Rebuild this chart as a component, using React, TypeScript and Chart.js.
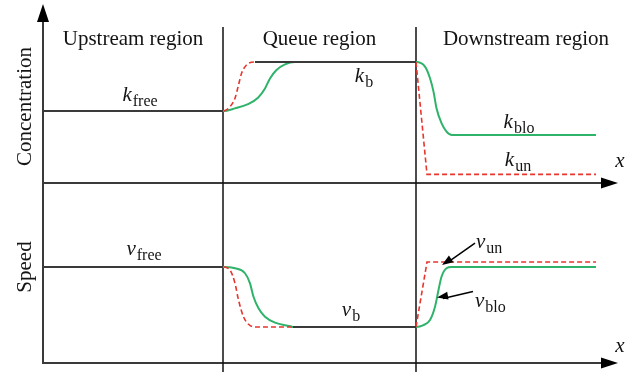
import { useEffect, useRef } from "react";
import { Chart, registerables } from "chart.js";

Chart.register(...registerables);

// Road position (arbitrary distance units) and region boundaries
const xMax = 115;
const regionBounds = [36, 74.6];
const regionNames = ["Upstream region", "Queue region", "Downstream region"];
const regionCenters = [18, 55.3, 96.6];

// Concentration panel (k)
const kFreeX = [0, 36];
const kFreeY = [36, 36];
const kBX = [42.4, 74.6];
const kBY = [60.5, 60.5];
const kGreenX = [33, 36, 38.4, 41, 43, 44.4, 45.4, 46.7, 48.4, 50.4, 74.6, 76.4, 77.4, 78.1, 78.7, 79.7, 80.7, 81.8, 110.6];
const kGreenY = [36, 36, 37.3, 39.4, 42.6, 47.3, 52.3, 56.5, 59.3, 60.5, 60.5, 58.2, 52.4, 45.7, 37.4, 29.9, 25.7, 24, 24];
const kRedUpX = [33, 36, 37.4, 38.4, 39.1, 39.7, 40.7, 42.4, 48];
const kRedUpY = [36, 36, 38.2, 42.4, 49, 54.8, 59, 60.5, 60.5];
const kRedDownX = [74.6, 76.8, 110.6];
const kRedDownY = [60.5, 4.3, 4.3];

// Speed panel (v)
const vFreeX = [0, 36];
const vFreeY = [60, 60];
const vBX = [50, 74.6];
const vBY = [22.5, 22.5];
const vGreenX = [33, 36, 38.4, 40.4, 41.4, 42.1, 43.1, 44.4, 46.4, 49.7, 50, 74.6, 76.1, 77.4, 78.4, 79.1, 79.7, 80.7, 81.7, 110.6];
const vGreenY = [60, 60, 59.2, 56.1, 49.8, 41.4, 34.2, 28.9, 25.2, 22.8, 22.5, 22.5, 23.7, 26.9, 35.2, 45.6, 53.9, 59.2, 60, 60];
const vRedUpX = [33, 36, 37.4, 38.4, 39.1, 40.1, 41.1, 42.4, 52];
const vRedUpY = [60, 60, 58.1, 49.8, 39.4, 28.9, 24.2, 22.5, 22.5];
const vRedDownX = [74.6, 76.8, 110.6];
const vRedDownY = [22.5, 63.1, 63.1];

const BLACK = "#3a3a3a";
const GREEN = "#2fb36a";
const RED = "#e8352d";
const TEXT = "#141414";
const SERIF = '"Liberation Serif", "DejaVu Serif", serif';

const pts = (xs: number[], ys: number[]) => xs.map((x, i) => ({ x, y: ys[i] }));

function drawSub(
  ctx: CanvasRenderingContext2D,
  base: string,
  sub: string,
  x: number,
  y: number,
  align: "center" | "left"
) {
  ctx.font = `italic 21px ${SERIF}`;
  const wb = ctx.measureText(base).width;
  ctx.font = `16px ${SERIF}`;
  const ws = ctx.measureText(sub).width;
  const start = align === "center" ? x - (wb + ws + 1) / 2 : x;
  ctx.textAlign = "left";
  ctx.textBaseline = "alphabetic";
  ctx.font = `italic 21px ${SERIF}`;
  ctx.fillText(base, start, y);
  ctx.font = `16px ${SERIF}`;
  ctx.fillText(sub, start + wb + 1, y + 5);
}

function arrowHead(
  ctx: CanvasRenderingContext2D,
  tx: number,
  ty: number,
  fx: number,
  fy: number,
  len: number,
  half: number
) {
  const ang = Math.atan2(ty - fy, tx - fx);
  const bx = tx - len * Math.cos(ang);
  const by = ty - len * Math.sin(ang);
  const px = -Math.sin(ang) * half;
  const py = Math.cos(ang) * half;
  ctx.beginPath();
  ctx.moveTo(tx, ty);
  ctx.lineTo(bx + px, by + py);
  ctx.lineTo(bx - px, by - py);
  ctx.closePath();
  ctx.fill();
}

function segment(ctx: CanvasRenderingContext2D, x1: number, y1: number, x2: number, y2: number) {
  ctx.beginPath();
  ctx.moveTo(x1, y1);
  ctx.lineTo(x2, y2);
  ctx.stroke();
}

const diagramPlugin = {
  id: "diagram",
  beforeDatasetsDraw(chart: any) {
    const { ctx, chartArea: a, scales } = chart;
    const X = (v: number) => scales.x.getPixelForValue(v);
    const left = X(0);
    const kBase = scales.yk.getPixelForValue(0);
    const vBase = scales.yv.getPixelForValue(0);
    ctx.save();
    ctx.strokeStyle = BLACK;
    ctx.fillStyle = "#000";
    ctx.lineWidth = 2;
    segment(ctx, left, vBase + 1, left, a.top + 14);
    arrowHead(ctx, left, a.top, left, a.top + 30, 18, 6);
    for (const yb of [kBase, vBase]) {
      segment(ctx, left, yb, a.right - 12, yb);
      arrowHead(ctx, a.right, yb, a.right - 30, yb, 17, 5.5);
    }
    ctx.strokeStyle = "#111";
    ctx.lineWidth = 1.5;
    for (const b of regionBounds) {
      segment(ctx, X(b), a.top + 23, X(b), chart.height);
    }
    ctx.restore();
  },
  afterDatasetsDraw(chart: any) {
    const { ctx, chartArea: a, scales } = chart;
    const X = (v: number) => scales.x.getPixelForValue(v);
    const YK = (v: number) => scales.yk.getPixelForValue(v);
    const YV = (v: number) => scales.yv.getPixelForValue(v);
    const kBase = YK(0);
    const vBase = YV(0);
    ctx.save();
    ctx.fillStyle = TEXT;

    // region titles
    ctx.font = `21px ${SERIF}`;
    ctx.textAlign = "center";
    ctx.textBaseline = "alphabetic";
    regionNames.forEach((n, i) => ctx.fillText(n, X(regionCenters[i]), a.top + 41));

    // panel titles
    ctx.textBaseline = "middle";
    ctx.save();
    ctx.translate(25, (a.top + kBase) / 2 + 13);
    ctx.rotate(-Math.PI / 2);
    ctx.fillText("Concentration", 0, 0);
    ctx.restore();
    ctx.save();
    ctx.translate(25, YV(60));
    ctx.rotate(-Math.PI / 2);
    ctx.fillText("Speed", 0, 0);
    ctx.restore();

    // x axis labels
    ctx.font = `italic 21px ${SERIF}`;
    ctx.textAlign = "center";
    ctx.textBaseline = "alphabetic";
    ctx.fillText("x", a.right + 2, kBase - 16);
    ctx.fillText("x", a.right + 2, vBase - 11);

    // level labels
    drawSub(ctx, "k", "free", X(19.4), YK(kFreeY[0]) - 10, "center");
    drawSub(ctx, "k", "b", X(64.2), YK(kBY[0]) + 20, "center");
    drawSub(ctx, "k", "blo", X(95.2), YK(kGreenY[kGreenY.length - 1]) - 7, "center");
    drawSub(ctx, "k", "un", X(95), YK(kRedDownY[kRedDownY.length - 1]) - 8, "center");
    drawSub(ctx, "v", "free", X(20.2), YV(vFreeY[0]) - 12, "center");
    drawSub(ctx, "v", "b", X(61.6), YV(vBY[0]) - 11, "center");
    drawSub(ctx, "v", "un", X(86.6), YV(vRedDownY[vRedDownY.length - 1]) - 14, "left");
    drawSub(ctx, "v", "blo", X(86.4), YV(vBY[0]) - 20, "left");

    // pointer arrows to the downstream speed curves
    ctx.strokeStyle = "#000";
    ctx.fillStyle = "#000";
    ctx.lineWidth = 1.5;
    const unTip = { x: X(79.8), y: YV(vRedDownY[1]) + 3 };
    const unTail = { x: X(86.4), y: YV(vRedDownY[1]) - 19 };
    segment(ctx, unTail.x, unTail.y, unTip.x + 6, unTip.y - 3);
    arrowHead(ctx, unTip.x, unTip.y, unTail.x, unTail.y, 11, 4);
    const bloTip = { x: X(78.8), y: YV(41) };
    const bloTail = { x: X(86), y: YV(41) - 6 };
    segment(ctx, bloTail.x, bloTail.y, bloTip.x + 6, bloTip.y + 1);
    arrowHead(ctx, bloTip.x, bloTip.y, bloTail.x, bloTail.y, 11, 4);
    ctx.restore();
  },
};

export default function App() {
  const ref = useRef<HTMLCanvasElement | null>(null);

  useEffect(() => {
    if (!ref.current) return;
    const line = (data: any[], axis: string, color: string, order: number, opts: any = {}) => ({
      data,
      yAxisID: axis,
      borderColor: color,
      borderWidth: 2,
      pointRadius: 0,
      fill: false,
      order,
      ...opts,
    });
    const smooth = { cubicInterpolationMode: "monotone" };
    const dashed = { borderDash: [5, 3], borderWidth: 1.6 };
    const chart = new Chart(ref.current, {
      type: "line",
      data: {
        datasets: [
          line(pts(kFreeX, kFreeY), "yk", BLACK, 1),
          line(pts(kBX, kBY), "yk", BLACK, 1),
          line(pts(vFreeX, vFreeY), "yv", BLACK, 1),
          line(pts(vBX, vBY), "yv", BLACK, 1),
          line(pts(kRedUpX, kRedUpY), "yk", RED, 2, { ...smooth, ...dashed }),
          line(pts(kRedDownX, kRedDownY), "yk", RED, 2, { ...dashed }),
          line(pts(vRedUpX, vRedUpY), "yv", RED, 2, { ...smooth, ...dashed }),
          line(pts(vRedDownX, vRedDownY), "yv", RED, 2, { ...dashed }),
          line(pts(kGreenX, kGreenY), "yk", GREEN, 3, smooth),
          line(pts(vGreenX, vGreenY), "yv", GREEN, 3, smooth),
        ],
      },
      options: {
        animation: false,
        responsive: false,
        maintainAspectRatio: false,
        devicePixelRatio: 1,
        layout: { padding: { left: 43, right: 20, top: 4, bottom: 9 } },
        plugins: { legend: { display: false }, tooltip: { enabled: false } },
        elements: { line: { tension: 0 } },
        scales: {
          x: { type: "linear", min: 0, max: xMax, display: false },
          yk: { type: "linear", min: -90, max: 89.5, display: false },
          yv: { type: "linear", min: 0, max: 224.4, display: false },
        },
      },
      plugins: [diagramPlugin],
    } as any);
    return () => chart.destroy();
  }, []);

  return (
    <div style={{ position: "absolute", left: 0, top: 0, width: 638, height: 372, background: "#fff" }}>
      <canvas ref={ref} width={638} height={372} style={{ display: "block" }} />
    </div>
  );
}
